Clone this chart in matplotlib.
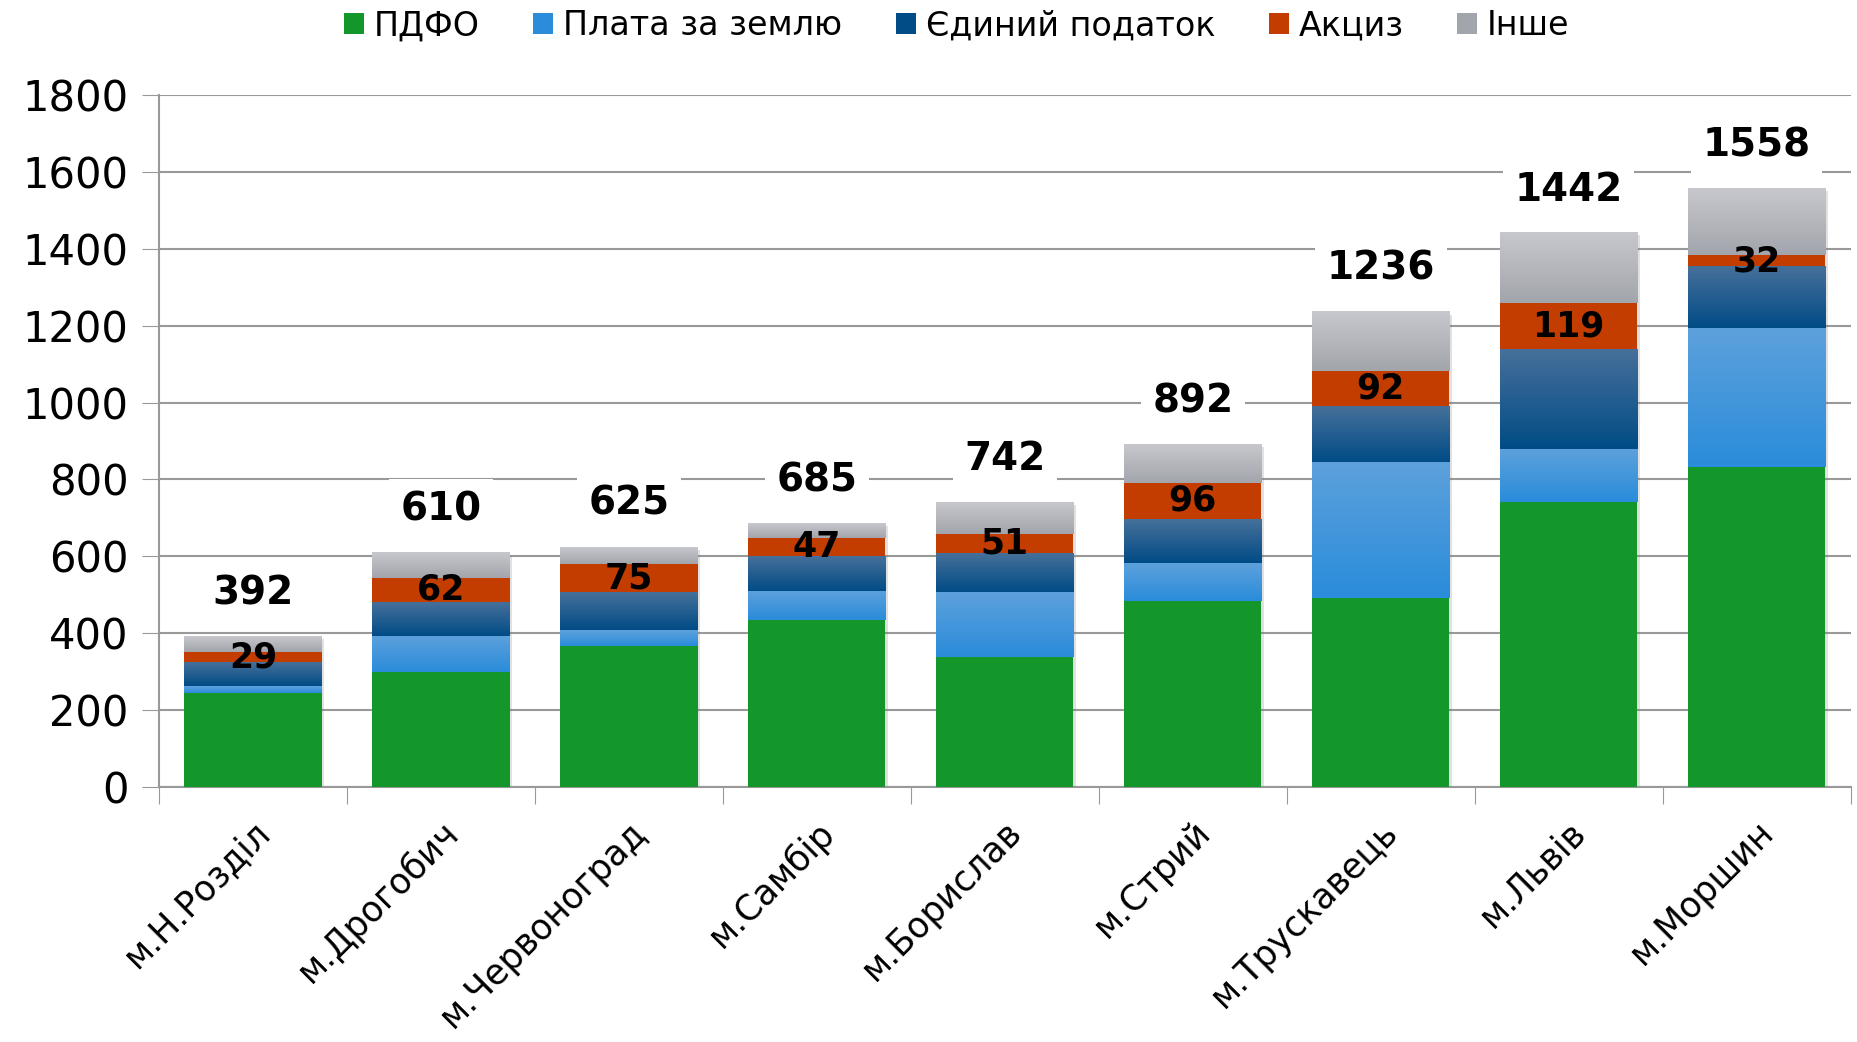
import matplotlib
matplotlib.use('Agg')
import matplotlib.pyplot as plt
import numpy as np
import matplotlib.colors as colors
import matplotlib.patheffects as pe

cities = ['м.Н.Розділ', 'м.Дрогобич', 'м.Червоноград', 'м.Самбір', 'м.Борислав',
          'м.Стрий', 'м.Трускавець', 'м.Львів', 'м.Моршин']
pdfo = [245, 300, 368, 434, 338, 484, 491, 741, 832]
land = [18, 94, 40, 76, 169, 98, 354, 138, 361]
single_tax = [60, 88, 98, 91, 101, 114, 145, 260, 159]
excise = [29, 62, 75, 47, 51, 96, 92, 119, 32]
other = [40, 66, 44, 37, 83, 100, 154, 184, 174]
totals = [392, 610, 625, 685, 742, 892, 1236, 1442, 1558]

series = ['ПДФО', 'Плата за землю', 'Єдиний податок', 'Акциз', 'Інше']
# (top colour, bottom colour) of each segment gradient
grads = [('#13962a', '#13962a'),
         ('#5da1dc', '#2a8cda'),
         ('#46709a', '#014c86'),
         ('#c43d00', '#c43d00'),
         ('#c6c8cd', '#a3a5ac')]

plt.rcParams['font.family'] = ['DejaVu Sans']

fig = plt.figure(figsize=(18.58, 10.42), dpi=100)
ax = fig.add_axes([0.0856, 0.2447, 0.9104, 0.6641])

x = np.arange(len(cities))
width = 0.73

# soft shadow under whole bar
ax.bar(x, totals, width, color='white', zorder=2,
       path_effects=[pe.SimplePatchShadow(offset=(2, -2), alpha=0.22, shadow_rgbFace='#777777'), pe.Normal()])

bottom = np.zeros(len(cities))
for name, vals, (ctop, cbot) in zip(series, [pdfo, land, single_tax, excise, other], grads):
    bars = ax.bar(x, vals, width, bottom=bottom, color=cbot, label=name, zorder=3)
    if ctop != cbot:
        cmap = colors.LinearSegmentedColormap.from_list(name, [cbot, ctop])
        g = np.linspace(0, 1, 100).reshape(-1, 1)
        for b in bars:
            x0, y0 = b.get_x(), b.get_y()
            ax.imshow(g, cmap=cmap, origin='lower', aspect='auto', zorder=3.5,
                      extent=[x0, x0 + b.get_width(), y0, y0 + b.get_height()])
    bottom += np.array(vals)

# excise labels centred on the excise segment
exc_base = np.array(pdfo) + np.array(land) + np.array(single_tax)
for i, v in enumerate(excise):
    ax.text(x[i], exc_base[i] + v / 2, str(v), ha='center', va='center',
            fontsize=25, fontweight='bold', color='black', zorder=6)

# totals with white box over the gridlines
for i, t in enumerate(totals):
    ax.annotate(str(t), (x[i], t), xytext=(0, 31), textcoords='offset points',
                ha='center', va='center', fontsize=28, fontweight='bold', zorder=6,
                bbox=dict(boxstyle='square,pad=0.3', fc='white', ec='none'))

ax.set_xlim(-0.5, len(cities) - 0.5)
ax.set_ylim(0, 1800)
ax.set_yticks(np.arange(0, 1801, 200))
ax.tick_params(axis='y', labelsize=30, length=12, color='#999999', pad=10)
ax.yaxis.grid(True, color='#999999', linewidth=1.5, zorder=0)
ax.set_axisbelow(True)

ax.set_xticks(np.arange(-0.5, len(cities), 1.0), minor=False)
ax.set_xticklabels([])
ax.set_xticks(x, minor=True)
ax.set_xticklabels(cities, minor=True, rotation=45, ha='right', va='top',
                   rotation_mode='anchor', fontsize=25)
ax.tick_params(axis='x', which='major', length=12, color='#999999')
ax.tick_params(axis='x', which='minor', length=0, pad=20)

for s in ['top', 'right']:
    ax.spines[s].set_visible(False)
ax.spines['left'].set_color('#999999')
ax.spines['bottom'].set_color('#999999')
ax.spines['left'].set_linewidth(1.5)
ax.spines['bottom'].set_linewidth(1.5)

handles, labels = ax.get_legend_handles_labels()
fig.legend(handles, labels, loc='upper center', bbox_to_anchor=(0.515, 1.02), ncol=5,
           frameon=False, fontsize=24, handlelength=0.6, handleheight=0.6,
           handletextpad=0.3, columnspacing=1.6)

plt.savefig('out.png', dpi=100)
